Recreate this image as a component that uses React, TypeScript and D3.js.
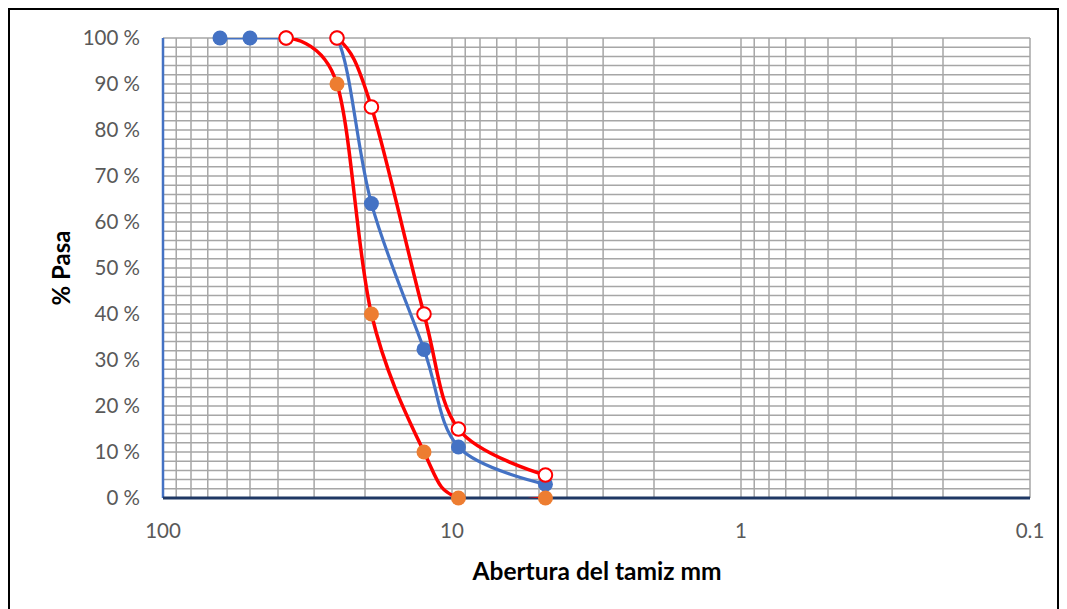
import React from "react";
import * as d3 from "d3";

const sizes = [63.5, 50, 37.5, 25, 19, 12.5, 9.5, 4.75];
const muestra = [100, 100, 100, 100, 64, 32.3, 11.1, 3];
const limiteSupSizes = [37.5, 25, 19, 12.5, 9.5, 4.75];
const limiteSup = [100, 100, 85, 40, 15, 5];
const limiteInfSizes = [37.5, 25, 19, 12.5, 9.5, 4.75];
const limiteInf = [100, 90, 40, 10, 0, 0];
const xTickLabels = [100, 10, 1, 0.1];
const yTicks = [0, 10, 20, 30, 40, 50, 60, 70, 80, 90, 100];

const W = 1067;
const H = 609;
const L = 163, R = 1030, T = 38, B = 498;
const FONT = "Lato, 'Open Sans', sans-serif";

export default function App() {
  const x = d3.scaleLog().domain([100, 0.1]).range([L, R]);
  const y = d3.scaleLinear().domain([0, 100]).range([B, T]);

  const vGrid: number[] = [];
  for (let e = 1; e >= -1; e--) {
    for (let m = 10; m >= 1; m--) {
      const v = m * Math.pow(10, e);
      if (v <= 100 && v >= 0.1) vGrid.push(v);
    }
  }
  const uniqueV = Array.from(new Set(vGrid.map((v) => +v.toPrecision(6))));
  const hGrid = d3.range(0, 101, 2);

  const line = d3
    .line<[number, number]>()
    .x((d) => x(d[0]))
    .y((d) => y(d[1]))
    .curve(d3.curveCardinal.tension(0));

  const blueData: [number, number][] = sizes.map((s, i) => [s, muestra[i]]);
  const supData: [number, number][] = limiteSupSizes.map((s, i) => [s, limiteSup[i]]);
  const infData: [number, number][] = limiteInfSizes.map((s, i) => [s, limiteInf[i]]);

  return (
    <svg
      width={W}
      height={H}
      style={{ position: "absolute", left: 0, top: 0, background: "#fff" }}
    >
      <defs>
        <clipPath id="plotclip">
          <rect x={L} y={T} width={R - L} height={B - T} />
        </clipPath>
      </defs>
      <rect x={9} y={9} width={1049} height={620} fill="#fff" stroke="#000" strokeWidth={2} />

      {hGrid.map((v) => (
        <line key={"h" + v} x1={L} x2={R} y1={y(v)} y2={y(v)} stroke="#A6A6A6" strokeWidth={1.5} />
      ))}
      {uniqueV.map((v) => (
        <line key={"v" + v} x1={x(v)} x2={x(v)} y1={T} y2={B} stroke="#A6A6A6" strokeWidth={1.5} />
      ))}

      <line x1={L} x2={L} y1={T} y2={B} stroke="#4472C4" strokeWidth={2.5} />
      <line x1={L} x2={R} y1={B} y2={B} stroke="#1F3864" strokeWidth={3} />

      {yTicks.map((v) => (
        <text
          key={"yl" + v}
          x={140}
          y={y(v)}
          dy="0.35em"
          textAnchor="end"
          fontFamily={FONT}
          fontSize={20.5}
          fill="#595959"
        >
          {v} %
        </text>
      ))}
      {xTickLabels.map((v) => (
        <text
          key={"xl" + v}
          x={x(v)}
          y={531}
          dy="0.35em"
          textAnchor="middle"
          fontFamily={FONT}
          fontSize={20.5}
          fill="#595959"
        >
          {v}
        </text>
      ))}

      <text
        x={597}
        y={571}
        dy="0.35em"
        textAnchor="middle"
        fontFamily={FONT}
        fontSize={24.5}
        fontWeight="bold"
        fill="#000"
      >
        Abertura del tamiz mm
      </text>
      <text
        transform={`translate(62,268) rotate(-90)`}
        dy="0.35em"
        textAnchor="middle"
        fontFamily={FONT}
        fontSize={24}
        fontWeight="bold"
        fill="#000"
      >
        % Pasa
      </text>

      <g clipPath="url(#plotclip)">
        <path d={line(blueData) || ""} fill="none" stroke="#4472C4" strokeWidth={3.2} />
      </g>
      {blueData.map((d, i) => (
        <circle key={"b" + i} cx={x(d[0])} cy={y(d[1])} r={7.5} fill="#4472C4" />
      ))}
      <g clipPath="url(#plotclip)">
        <path d={line(infData) || ""} fill="none" stroke="#FF0000" strokeWidth={3.5} />
      </g>
      {infData.map((d, i) => (
        <circle key={"o" + i} cx={x(d[0])} cy={y(d[1])} r={7.5} fill="#ED7D31" />
      ))}
      <g clipPath="url(#plotclip)">
        <path d={line(supData) || ""} fill="none" stroke="#FF0000" strokeWidth={3.5} />
      </g>
      {supData.map((d, i) => (
        <circle
          key={"s" + i}
          cx={x(d[0])}
          cy={y(d[1])}
          r={6.8}
          fill="#fff"
          stroke="#FF0000"
          strokeWidth={2}
        />
      ))}
    </svg>
  );
}
